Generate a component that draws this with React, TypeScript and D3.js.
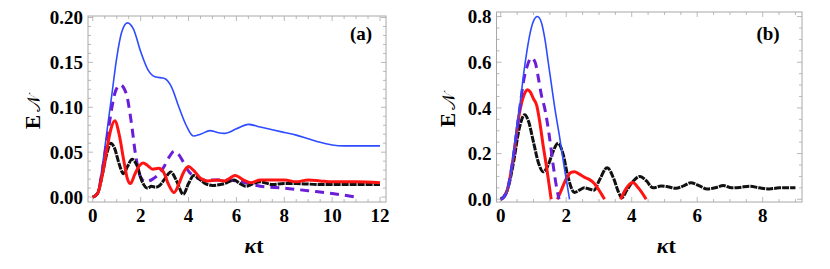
import React from "react";
import * as d3 from "d3";

type Pt = [number, number];

// panel (a): kappa t vs E_N
const blueA: Pt[] = [
  [0, 0], [0.2, 0.005], [0.4, 0.035], [0.6, 0.075], [0.8, 0.115], [1.0, 0.155], [1.2, 0.183],
  [1.45, 0.194], [1.7, 0.187], [2.0, 0.162], [2.3, 0.142], [2.6, 0.134], [3.0, 0.132], [3.3, 0.122],
  [3.6, 0.1], [3.9, 0.08], [4.2, 0.068], [4.5, 0.07], [4.9, 0.074], [5.2, 0.072], [5.5, 0.071],
  [6.0, 0.076], [6.5, 0.081], [7.0, 0.078], [7.5, 0.075], [8.0, 0.072], [8.5, 0.069], [9.0, 0.065],
  [9.5, 0.061], [10.0, 0.058], [10.5, 0.057], [11.0, 0.057], [12.0, 0.057],
];
const purpleA: Pt[] = [
  [0, 0], [0.2, 0.004], [0.4, 0.03], [0.6, 0.065], [0.8, 0.1], [0.95, 0.118], [1.15, 0.125],
  [1.4, 0.115], [1.6, 0.085], [1.8, 0.045], [2.0, 0.022], [2.2, 0.017], [2.5, 0.02], [2.8, 0.027],
  [3.0, 0.035], [3.2, 0.045], [3.4, 0.051], [3.6, 0.047], [3.8, 0.038], [4.0, 0.029], [4.3, 0.022],
  [4.6, 0.019], [5.0, 0.019], [5.5, 0.019], [6.0, 0.018], [6.5, 0.015], [7.0, 0.012], [8.0, 0.01],
  [9.0, 0.007], [10.0, 0.004], [11.0, 0.0],
];
const blackA: Pt[] = [
  [0, 0], [0.2, 0.004], [0.4, 0.025], [0.6, 0.05], [0.75, 0.06], [0.9, 0.055], [1.1, 0.037],
  [1.28, 0.026], [1.45, 0.034], [1.64, 0.042], [1.85, 0.035], [2.05, 0.018], [2.29, 0.01],
  [2.45, 0.012], [2.63, 0.011], [2.8, 0.013], [3.0, 0.02], [3.26, 0.028], [3.5, 0.018],
  [3.78, 0.003], [4.0, 0.015], [4.22, 0.024], [4.45, 0.02], [4.7, 0.015], [5.0, 0.013],
  [5.5, 0.015], [5.9, 0.019], [6.15, 0.015], [6.4, 0.012], [6.7, 0.015], [7.0, 0.017],
  [7.5, 0.014], [8.0, 0.015], [8.5, 0.015], [9.5, 0.014], [10.5, 0.014], [12.0, 0.014],
];
const redA: Pt[] = [
  [0, 0], [0.2, 0.004], [0.4, 0.025], [0.6, 0.055], [0.75, 0.075], [0.92, 0.085], [1.1, 0.07],
  [1.3, 0.04], [1.45, 0.02], [1.57, 0.015], [1.75, 0.025], [1.95, 0.035], [2.1, 0.038],
  [2.3, 0.035], [2.5, 0.031], [2.75, 0.032], [2.95, 0.028], [3.15, 0.015], [3.4, 0.005],
  [3.6, 0.015], [3.8, 0.028], [4.0, 0.034], [4.2, 0.03], [4.5, 0.021], [4.8, 0.018], [5.2, 0.019],
  [5.5, 0.018], [5.95, 0.024], [6.3, 0.019], [6.6, 0.016], [7.0, 0.019], [7.5, 0.019],
  [8.0, 0.019], [8.5, 0.017], [9.0, 0.019], [9.5, 0.018], [10.0, 0.017], [11.0, 0.017], [12.0, 0.016],
];

// panel (b)
const blueB: Pt[] = [
  [0, 0], [0.1, 0.01], [0.2, 0.04], [0.3, 0.1], [0.4, 0.22], [0.5, 0.33], [0.6, 0.43], [0.7, 0.55],
  [0.8, 0.65], [0.9, 0.73], [1.0, 0.78], [1.12, 0.8], [1.25, 0.77], [1.35, 0.7], [1.45, 0.6],
  [1.55, 0.5], [1.65, 0.4], [1.8, 0.27], [1.95, 0.13], [2.1, 0.0],
];
const purpleB: Pt[] = [
  [0, 0], [0.1, 0.01], [0.2, 0.04], [0.4, 0.2], [0.6, 0.42], [0.7, 0.52], [0.8, 0.58], [0.94, 0.62],
  [1.05, 0.6], [1.15, 0.53], [1.25, 0.45], [1.34, 0.4], [1.48, 0.28], [1.6, 0.15], [1.72, 0.04], [1.78, 0.0],
];
const redB1: Pt[] = [
  [0, 0], [0.1, 0.01], [0.2, 0.04], [0.4, 0.2], [0.55, 0.36], [0.65, 0.43], [0.75, 0.47], [0.82, 0.48],
  [0.9, 0.47], [1.0, 0.44], [1.1, 0.41], [1.2, 0.33], [1.3, 0.23], [1.4, 0.14], [1.54, 0.0],
];
const redB2: Pt[] = [
  [1.73, 0], [1.85, 0.04], [2.0, 0.09], [2.15, 0.118], [2.25, 0.121], [2.4, 0.11], [2.55, 0.097],
  [2.7, 0.087], [2.85, 0.07], [3.0, 0.04], [3.17, 0.0],
];
const redB3: Pt[] = [[3.66, 0], [3.8, 0.04], [4.03, 0.073], [4.2, 0.05], [4.44, 0.0]];
const blackB: Pt[] = [
  [0, 0], [0.2, 0.04], [0.4, 0.17], [0.55, 0.3], [0.73, 0.37], [0.85, 0.34], [1.0, 0.25],
  [1.15, 0.16], [1.3, 0.12], [1.45, 0.15], [1.6, 0.21], [1.75, 0.245], [1.9, 0.2], [2.05, 0.1],
  [2.25, 0.03], [2.4, 0.04], [2.55, 0.05], [2.7, 0.045], [2.85, 0.04], [3.0, 0.08], [3.25, 0.138],
  [3.45, 0.09], [3.6, 0.03], [3.7, 0.007], [3.85, 0.04], [4.05, 0.08], [4.25, 0.1], [4.45, 0.08],
  [4.65, 0.05], [4.9, 0.058], [5.1, 0.055], [5.35, 0.048], [5.6, 0.06], [5.8, 0.072], [6.05, 0.06],
  [6.3, 0.045], [6.55, 0.05], [6.8, 0.06], [7.05, 0.05], [7.3, 0.052], [7.6, 0.057], [7.9, 0.05],
  [8.2, 0.045], [8.5, 0.05], [8.75, 0.05], [9.0, 0.05],
];

const xTicksA = [0, 2, 4, 6, 8, 10, 12];
const yTicksA = [0, 0.05, 0.1, 0.15, 0.2];
const xTicksB = [0, 2, 4, 6, 8];
const yTicksB = [0, 0.2, 0.4, 0.6, 0.8];

const BLUE = "#2d4cff";
const RED = "#ff1414";
const PURPLE = "#6a1ed8";
const BLACK = "#111";
const FRAME = "#a8a8a8";
const SERIF = { fontFamily: "Liberation Serif" };

type Series = { data: Pt[]; color: string; width: number; dash?: string };

type PanelProps = {
  frame: { left: number; right: number; top: number; bottom: number };
  xDomain: [number, number];
  yDomain: [number, number];
  xTicks: number[];
  yTicks: number[];
  xMinor: number;
  yMinor: number;
  xMax: number;
  yFmt: (v: number) => string;
  series: Series[];
  tag: string;
  tagX: number;
  yLabelX: number;
};

const Panel = (p: PanelProps) => {
  const { frame } = p;
  const x = d3.scaleLinear().domain(p.xDomain).range([frame.left, frame.right]);
  const y = d3.scaleLinear().domain(p.yDomain).range([frame.bottom, frame.top]);
  const line = d3
    .line<Pt>()
    .x((d) => x(d[0]))
    .y((d) => y(d[1]))
    .curve(d3.curveMonotoneX);

  const xMinorTicks = d3.range(0, p.xMax + 1e-9, p.xMinor);
  const yMax = p.yTicks[p.yTicks.length - 1];
  const yMinorTicks = d3.range(0, yMax + 1e-9, p.yMinor);
  const isMajor = (v: number, arr: number[]) => arr.some((t) => Math.abs(t - v) < 1e-9);

  return (
    <g>
      <defs>
        <clipPath id={`clip-${p.tag}`}>
          <rect x={frame.left} y={frame.top} width={frame.right - frame.left} height={frame.bottom - frame.top} />
        </clipPath>
      </defs>
      <rect
        x={frame.left}
        y={frame.top}
        width={frame.right - frame.left}
        height={frame.bottom - frame.top}
        fill="none"
        stroke={FRAME}
        strokeWidth={1}
      />
      {xMinorTicks.map((t, i) => {
        const len = isMajor(t, p.xTicks) ? 5 : 3;
        return (
          <g key={"xt" + i} stroke={FRAME} strokeWidth={0.8}>
            <line x1={x(t)} x2={x(t)} y1={frame.bottom} y2={frame.bottom - len} />
            <line x1={x(t)} x2={x(t)} y1={frame.top} y2={frame.top + len} />
          </g>
        );
      })}
      {yMinorTicks.map((v, i) => {
        const len = isMajor(v, p.yTicks) ? 5 : 3;
        return (
          <g key={"yt" + i} stroke={FRAME} strokeWidth={0.8}>
            <line x1={frame.left} x2={frame.left + len} y1={y(v)} y2={y(v)} />
            <line x1={frame.right} x2={frame.right - len} y1={y(v)} y2={y(v)} />
          </g>
        );
      })}
      <g clipPath={`url(#clip-${p.tag})`}>
        {p.series.map((s, i) => (
          <path
            key={i}
            d={line(s.data) || ""}
            fill="none"
            stroke={s.color}
            strokeWidth={s.width}
            strokeDasharray={s.dash}
            strokeLinejoin="round"
          />
        ))}
      </g>
      {p.xTicks.map((t) => (
        <text key={"xl" + t} x={x(t)} y={222} textAnchor="middle" style={SERIF} fontWeight="bold" fontSize={19}>
          {t}
        </text>
      ))}
      {p.yTicks.map((v) => (
        <text
          key={"yl" + v}
          x={frame.left - 5}
          y={y(v)}
          dy="0.35em"
          textAnchor="end"
          style={SERIF}
          fontWeight="bold"
          fontSize={19}
        >
          {p.yFmt(v)}
        </text>
      ))}
      <text
        x={(frame.left + frame.right) / 2 + 17}
        y={253}
        textAnchor="middle"
        style={SERIF}
        fontWeight="bold"
        fontSize={22}
      >
        <tspan fontStyle="italic">κ</tspan>t
      </text>
      <text
        transform={`translate(${p.yLabelX},${(frame.top + frame.bottom) / 2 + 3}) rotate(-90)`}
        textAnchor="middle"
        style={SERIF}
        fontWeight="bold"
        fontSize={21}
      >
        E<tspan dx="3" fontWeight="normal" fontSize={18}>𝒩</tspan>
      </text>
      <text x={p.tagX} y={40} textAnchor="middle" style={SERIF} fontWeight="bold" fontSize={19}>
        ({p.tag})
      </text>
    </g>
  );
};

export default function App() {
  return (
    <svg width={830} height={269} style={{ position: "absolute", left: 0, top: 0, background: "#fff" }}>
      <Panel
        frame={{ left: 88, right: 386, top: 16, bottom: 202 }}
        xDomain={[-0.2, 12.25]}
        yDomain={[-0.0055, 0.2017]}
        xTicks={xTicksA}
        yTicks={yTicksA}
        xMinor={0.5}
        yMinor={0.01}
        xMax={12}
        yFmt={(v) => v.toFixed(2)}
        tag="a"
        tagX={361}
        yLabelX={40}
        series={[
          { data: blueA, color: BLUE, width: 1.6 },
          { data: purpleA, color: PURPLE, width: 3, dash: "9,6" },
          { data: blackA, color: BLACK, width: 3, dash: "7,1" },
          { data: redA, color: RED, width: 3 },
        ]}
      />
      <Panel
        frame={{ left: 496.5, right: 802, top: 12, bottom: 202 }}
        xDomain={[-0.13, 9.2]}
        yDomain={[-0.012, 0.82]}
        xTicks={xTicksB}
        yTicks={yTicksB}
        xMinor={0.5}
        yMinor={0.05}
        xMax={9}
        yFmt={(v) => v.toFixed(1)}
        tag="b"
        tagX={768}
        yLabelX={455}
        series={[
          { data: blackB, color: BLACK, width: 3, dash: "7,1" },
          { data: redB1, color: RED, width: 3 },
          { data: redB2, color: RED, width: 3 },
          { data: redB3, color: RED, width: 3 },
          { data: purpleB, color: PURPLE, width: 3, dash: "9,6" },
          { data: blueB, color: BLUE, width: 1.6 },
        ]}
      />
    </svg>
  );
}
